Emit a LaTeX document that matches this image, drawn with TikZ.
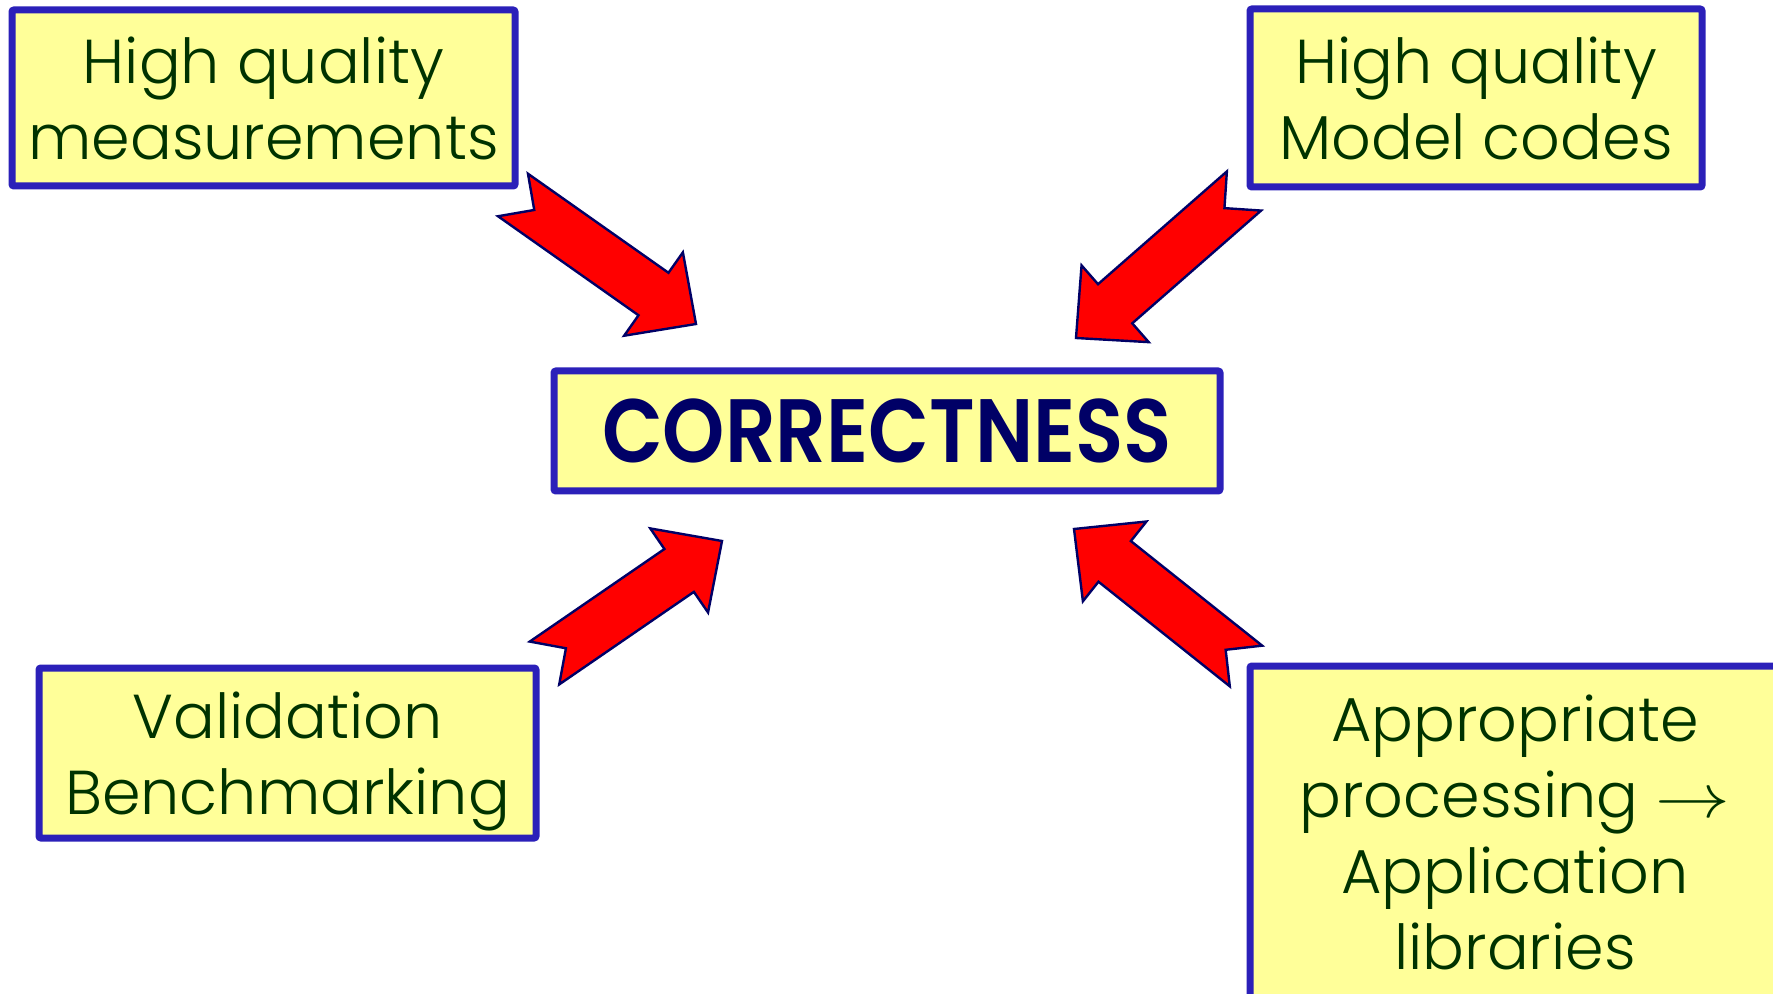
\documentclass[tikz,border=0pt]{standalone}
\usepackage{fontspec}
\setmainfont{Poppins Light}
\newfontfamily\headfont[FakeStretch=0.88]{Poppins SemiBold}
\usetikzlibrary{calc}

\definecolor{boxline}{HTML}{2B20B9}
\definecolor{boxfill}{HTML}{FFFF99}
\definecolor{labelgreen}{HTML}{003300}
\definecolor{headnavy}{HTML}{000066}
\definecolor{arrowred}{HTML}{FF0000}
\definecolor{arrowline}{HTML}{000066}

\tikzset{
  goalbox/.style={draw=boxline, fill=boxfill, line width=3.5pt, rounded corners=1pt,
    align=center, text=labelgreen, inner sep=0pt, font=\fontsize{31}{38}\selectfont},
  fatarrow/.style={fill=arrowred, draw=arrowline, line width=1.2pt, line join=miter}
}

% block arrow with notched tail: #1 tail, #2 tip
\newcommand{\fatarrow}[2]{%
  \draw[fatarrow]
    ($(#1)!13pt!90:(#2)$) -- ($(#1)!13pt!(#2)$) -- ($(#1)!13pt!-90:(#2)$)
    -- ($(#2)!26pt!(#1)!13pt!90:(#1)$) -- ($(#2)!26pt!(#1)!25.5pt!90:(#1)$)
    -- (#2)
    -- ($(#2)!26pt!(#1)!25.5pt!-90:(#1)$) -- ($(#2)!26pt!(#1)!13pt!-90:(#1)$)
    -- cycle;}

\begin{document}
\begin{tikzpicture}[x=0.5pt, y=-0.5pt]
  \useasboundingbox (0,0) rectangle (1773,994);
  \clip (0,0) rectangle (1773,994);

  \node[goalbox, minimum width=251.5pt, minimum height=88pt] (meas) at (263.5,98)
    {High quality\\measurements};
  \node[goalbox, minimum width=226pt, minimum height=89pt] (model) at (1476,98)
    {High quality\\Model codes};
  \node[goalbox, minimum width=333pt, minimum height=60pt, text=headnavy,
    font=\headfont\fontsize{45}{50}\selectfont] (correct) at (887,431) {CORRECTNESS};
  \node[goalbox, minimum width=248.5pt, minimum height=85pt, text depth=0pt] (valid) at (287.5,753)
    {Validation\\Benchmarking};
  \node[goalbox, minimum width=265pt, minimum height=166pt] (appl) at (1515,832)
    {Appropriate\\processing \scalebox{1.5}[1.25]{$\rightarrow$}\\Application\\libraries};

  \coordinate (t1) at (513,195);    \coordinate (h1) at (696,324);
  \coordinate (t2) at (1244,191);   \coordinate (h2) at (1076,338);
  \coordinate (t3) at (544.5,663);  \coordinate (h3) at (722,541);
  \coordinate (t4) at (1246,666);   \coordinate (h4) at (1074,529);

  \fatarrow{t1}{h1}
  \fatarrow{t2}{h2}
  \fatarrow{t3}{h3}
  \fatarrow{t4}{h4}
\end{tikzpicture}
\end{document}
